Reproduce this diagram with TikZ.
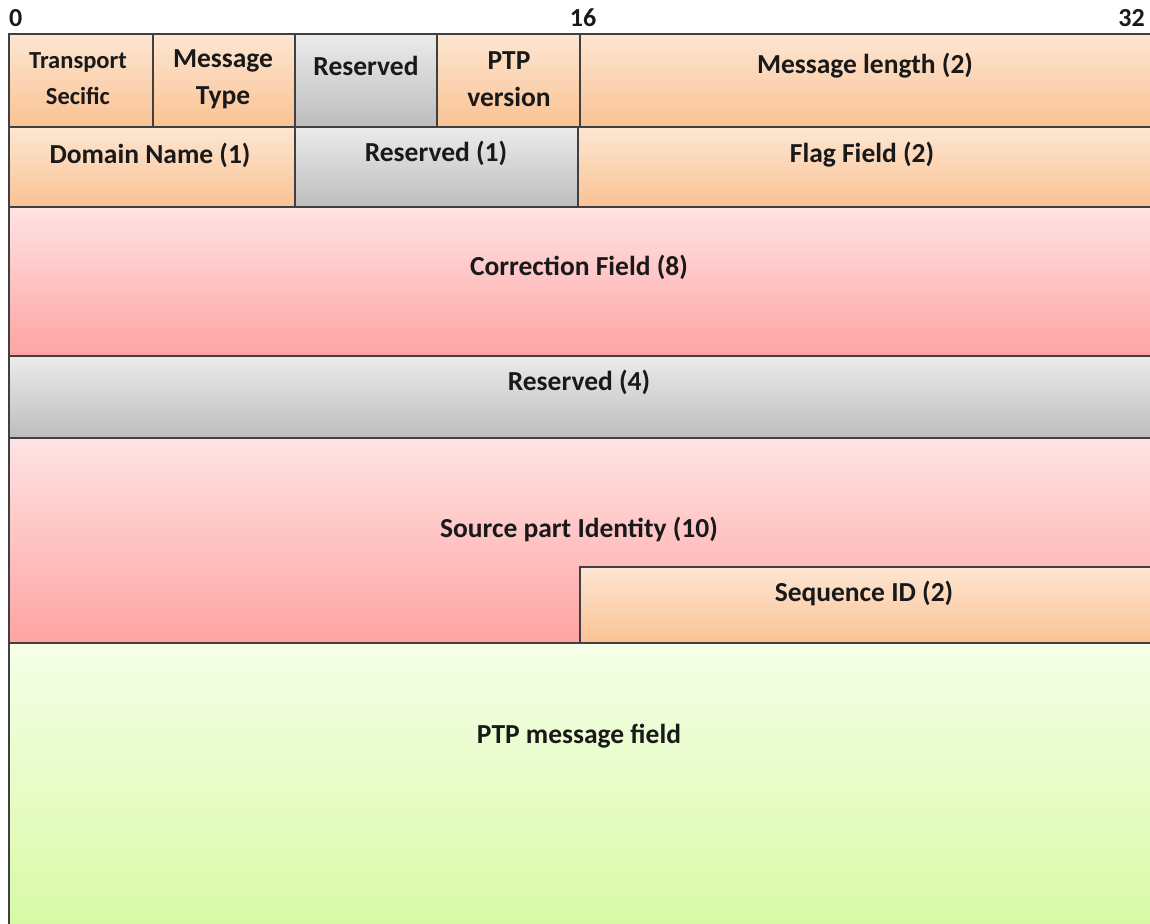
\documentclass[tikz,border=0pt]{standalone}
\usepackage{fontspec}
\setmainfont{Carlito}
\definecolor{orangetop}{HTML}{FDE6D3}
\definecolor{orangebot}{HTML}{FAC293}
\definecolor{greytop}{HTML}{EBEBEB}
\definecolor{greybot}{HTML}{BDBDBD}
\definecolor{pinktop}{HTML}{FFE3E3}
\definecolor{pinkbot}{HTML}{FFA3A3}
\definecolor{greentop}{HTML}{F5FFE8}
\definecolor{greenbot}{HTML}{D9F9A6}
\begin{document}
\begin{tikzpicture}[x=1pt,y=-1pt,
  cellline/.style={draw=black!75,line width=1.8pt},
  orangecell/.style={cellline,top color=orangetop,bottom color=orangebot},
  greycell/.style={cellline,top color=greytop,bottom color=greybot},
  pinkcell/.style={cellline,top color=pinktop,bottom color=pinkbot},
  greencell/.style={top color=greentop,bottom color=greenbot},
  lbl/.style={font=\bfseries\fontsize{27.5}{37}\selectfont,text=black!90,align=center,inner sep=0pt},
  smalllbl/.style={font=\bfseries\fontsize{24.5}{36}\selectfont,text=black!90,align=center,inner sep=0pt},
  bitlbl/.style={font=\bfseries\fontsize{26}{28}\selectfont,text=black!90,inner sep=0pt}]
\useasboundingbox (0,0) rectangle (1150,923);

% bit scale
\node[bitlbl,anchor=west] (b0) at (9,18) {0};
\node[bitlbl] (b16) at (583,18) {16};
\node[bitlbl,anchor=east] (b32) at (1145,18) {32};

% PTP message payload (open at the right and bottom)
\shade[greencell] (9,643) rectangle (1152,925);
\draw[black!75,line width=1.8pt] (9,643) -- (9,925);

% row 1
\shade[orangecell] (9,34) rectangle (153,127);
\shade[orangecell] (153,34) rectangle (295,127);
\shade[greycell] (295,34) rectangle (437,127);
\shade[orangecell] (437,34) rectangle (580,127);
\shade[orangecell] (580,34) rectangle (1152,127);

% row 2
\shade[orangecell] (9,127) rectangle (295,207);
\shade[greycell] (295,127) rectangle (578,207);
\shade[orangecell] (578,127) rectangle (1152,207);

% rows 3 to 5
\shade[pinkcell] (9,207) rectangle (1152,356);
\shade[greycell] (9,356) rectangle (1152,438);
\shade[pinkcell] (9,438) rectangle (1152,643);
\shade[orangecell] (580,567) rectangle (1152,643);

% field names
\node[smalllbl] (ts) at (78,79) {Transport\\Secific};
\node[lbl] (mt) at (223,79) {Message\\Type};
\node[lbl] (rs) at (366,66) {Reserved};
\node[lbl] (pv) at (509,79) {PTP\\version};
\node[lbl] (ml) at (865,66) {Message length (2)};
\node[lbl] (dn) at (150,155) {Domain Name (1)};
\node[lbl] (r1) at (436,153) {Reserved (1)};
\node[lbl] (ff) at (862,155) {Flag Field (2)};
\node[lbl] (cf) at (579,267) {Correction Field (8)};
\node[lbl] (r4) at (579,382) {Reserved (4)};
\node[lbl] (sp) at (579,529) {Source part Identity (10)};
\node[lbl] (sq) at (864,593) {Sequence ID (2)};
\node[lbl] (pm) at (579,736) {PTP message field};
\end{tikzpicture}
\end{document}
